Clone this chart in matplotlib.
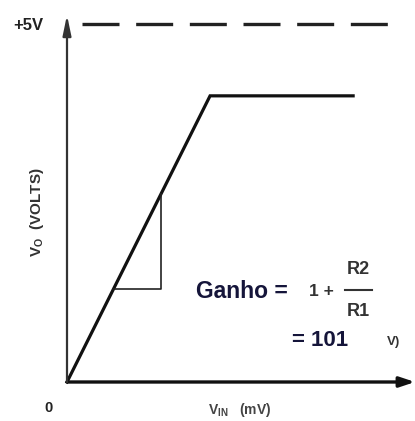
import matplotlib
matplotlib.use("Agg")
import matplotlib.pyplot as plt

# transfer curve (V_in in mV, V_o in volts)
vin = [0, 40, 80]
vout = [0, 4.0, 4.0]

# slope triangle
tri_x = [13, 26.3, 26.3]
tri_y = [1.3, 1.3, 2.63]

supply = 5.0
supply_x = [4.2, 90]

W, H = 415, 421


def fx(px):
    return px / W


def fy(py):
    return 1 - py / H


fig = plt.figure(figsize=(W / 100, H / 100), dpi=100)
ax = fig.add_axes([fx(67), fy(382), fx(415) - fx(67), fy(15) - fy(382)])
ax.set_xlim(0, 97.3)
ax.set_ylim(0, 5.13)
ax.axis("off")

# axes with arrows
ax.annotate("", xy=(97.3, 0), xytext=(0, 0), annotation_clip=False,
            arrowprops=dict(arrowstyle="-|>,head_length=0.9,head_width=0.3",
                            color="#111111", lw=2.4, shrinkA=0, shrinkB=0))
ax.annotate("", xy=(0, 5.13), xytext=(0, 0), annotation_clip=False,
            arrowprops=dict(arrowstyle="-|>,head_length=1.2,head_width=0.25",
                            color="#333333", lw=1.6, shrinkA=0, shrinkB=0))

# +5V dashed line
ax.plot(supply_x, [supply, supply], color="#222222", lw=2.4,
        dashes=(11.1, 5.0), clip_on=False, dash_capstyle="butt")

# curve
ax.plot(vin, vout, color="#111111", lw=2.3, solid_joinstyle="miter", clip_on=False)

# triangle
ax.plot(tri_x, tri_y, color="#222222", lw=1.2)

# labels
fig.text(fx(28), fy(25), "+5V", fontsize=12, fontweight="bold", color="#222222",
         ha="center", va="center", family="Liberation Sans")
fig.text(fx(48), fy(408), "0", fontsize=10.5, fontweight="bold", color="#222222",
         ha="center", va="center", family="Liberation Sans")
fig.text(fx(240), fy(410), r"V$_{\mathregular{IN}}$   (mV)", fontsize=10, fontweight="bold",
         color="#444444", ha="center", va="center", family="Liberation Sans")
fig.text(fx(37), fy(212), r"V$_{\mathregular{O}}$  (VOLTS)", fontsize=11, fontweight="bold",
         color="#333333", ha="center", va="center", rotation=90, family="Liberation Sans")

# gain annotation
navy = "#15153a"
fig.text(fx(196), fy(291), "Ganho =", fontsize=16.5, fontweight="bold", color=navy,
         ha="left", va="center", family="Liberation Sans")
fig.text(fx(321), fy(292), "1 +", fontsize=12.5, fontweight="bold", color="#333333",
         ha="center", va="center", family="Liberation Sans")
fig.text(fx(358), fy(270), "R2", fontsize=13, fontweight="bold", color="#333333",
         ha="center", va="center", family="Liberation Sans")
fig.text(fx(358), fy(311), "R1", fontsize=13, fontweight="bold", color="#333333",
         ha="center", va="center", family="Liberation Sans")
fig.add_artist(plt.Line2D([fx(345), fx(372)], [fy(290), fy(290)], color="#333333", lw=1.5))
fig.text(fx(292), fy(341), "= 101", fontsize=16, fontweight="bold", color=navy,
         ha="left", va="center", family="Liberation Sans")
fig.text(fx(394), fy(342), "V)", fontsize=9.5, fontweight="bold", color="#333333",
         ha="center", va="center", family="Liberation Sans")

fig.savefig("out.png", dpi=100)
